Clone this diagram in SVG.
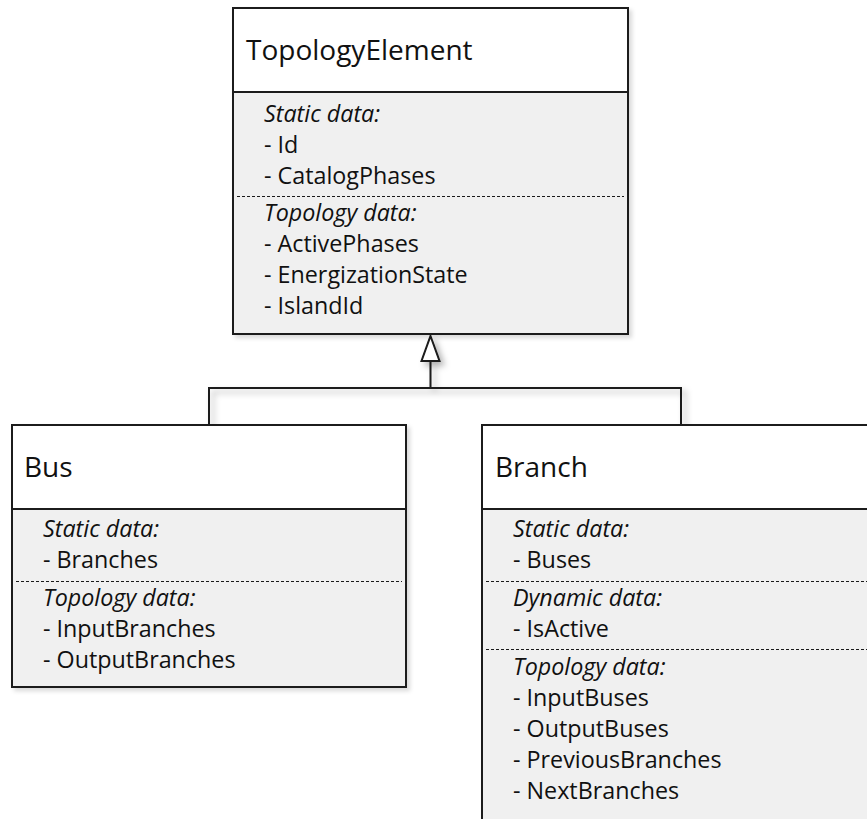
<svg xmlns="http://www.w3.org/2000/svg" width="867" height="819" viewBox="0 0 867 819">
  <defs>
    <filter id="shadow" x="-10%" y="-10%" width="130%" height="130%">
      <feDropShadow dx="4" dy="4" stdDeviation="3" flood-color="#000" flood-opacity="0.3"/>
    </filter>
    <filter id="soft" x="-10%" y="-10%" width="130%" height="130%">
      <feDropShadow dx="3" dy="3" stdDeviation="2" flood-color="#000" flood-opacity="0.15"/>
    </filter>
  </defs>
  <style>
    .frame { stroke: #1a1a1a; stroke-width: 2; }
    .head { fill: #ffffff; }
    .body { fill: #f0f0f0; }
    .sep { stroke: #1a1a1a; stroke-width: 1.2; stroke-dasharray: 3 2; }
    .title { font-family: "Open Sans", "Liberation Sans", sans-serif; font-size: 28px; fill: #111; }
    .attr { font-family: "Open Sans", "Liberation Sans", sans-serif; font-size: 23.3px; fill: #111; }
    .attr .cat { font-style: italic; }
    .wire { fill: none; stroke: #1a1a1a; stroke-width: 2; }
    .arrowhead { fill: #ffffff; stroke: #1a1a1a; stroke-width: 2; stroke-linejoin: miter; }
  </style>
  <rect width="867" height="819" fill="#ffffff"/>

  <!-- inheritance connector: Bus and Branch specialise TopologyElement -->
  <g id="connectors" filter="url(#shadow)">
    <path class="wire" d="M209,425 V388 H681 V425"/>
    <path class="wire" d="M430.5,388 V361"/>
    <polygon class="arrowhead" points="430.5,336 439.5,361 421.5,361"/>
  </g>

  <!-- TopologyElement -->
  <g id="topology-element">
    <g filter="url(#soft)">
      <rect class="head frame" x="233" y="8" width="395" height="84"/>
      <rect class="body frame" x="233" y="92" width="395" height="242"/>
    </g>
    <line class="sep" x1="237" y1="196.5" x2="624" y2="196.5"/>
    <text class="title" x="246" y="60">TopologyElement</text>
    <g class="attr">
      <text class="cat" x="264" y="122">Static data:</text>
      <text x="264" y="153">- Id</text>
      <text x="264" y="184">- CatalogPhases</text>
      <text class="cat" x="264" y="221">Topology data:</text>
      <text x="264" y="252">- ActivePhases</text>
      <text x="264" y="283">- EnergizationState</text>
      <text x="264" y="314">- IslandId</text>
    </g>
  </g>

  <!-- Bus -->
  <g id="bus">
    <g filter="url(#soft)">
      <rect class="head frame" x="12" y="425" width="394" height="84"/>
      <rect class="body frame" x="12" y="509" width="394" height="178"/>
    </g>
    <line class="sep" x1="16" y1="581.5" x2="402" y2="581.5"/>
    <text class="title" x="24" y="477">Bus</text>
    <g class="attr">
      <text class="cat" x="43" y="537">Static data:</text>
      <text x="43" y="568">- Branches</text>
      <text class="cat" x="43" y="606">Topology data:</text>
      <text x="43" y="637">- InputBranches</text>
      <text x="43" y="668">- OutputBranches</text>
    </g>
  </g>

  <!-- Branch (continues past the right and bottom edges) -->
  <g id="branch">
    <g filter="url(#soft)">
      <rect class="head frame" x="482" y="425" width="420" height="84"/>
      <rect class="body frame" x="482" y="509" width="420" height="340"/>
    </g>
    <line class="sep" x1="486" y1="581.5" x2="867" y2="581.5"/>
    <line class="sep" x1="486" y1="649.5" x2="867" y2="649.5"/>
    <text class="title" x="495" y="477">Branch</text>
    <g class="attr">
      <text class="cat" x="513" y="537">Static data:</text>
      <text x="513" y="568">- Buses</text>
      <text class="cat" x="513" y="606">Dynamic data:</text>
      <text x="513" y="637">- IsActive</text>
      <text class="cat" x="513" y="675">Topology data:</text>
      <text x="513" y="706">- InputBuses</text>
      <text x="513" y="737">- OutputBuses</text>
      <text x="513" y="768">- PreviousBranches</text>
      <text x="513" y="799">- NextBranches</text>
    </g>
  </g>
</svg>
